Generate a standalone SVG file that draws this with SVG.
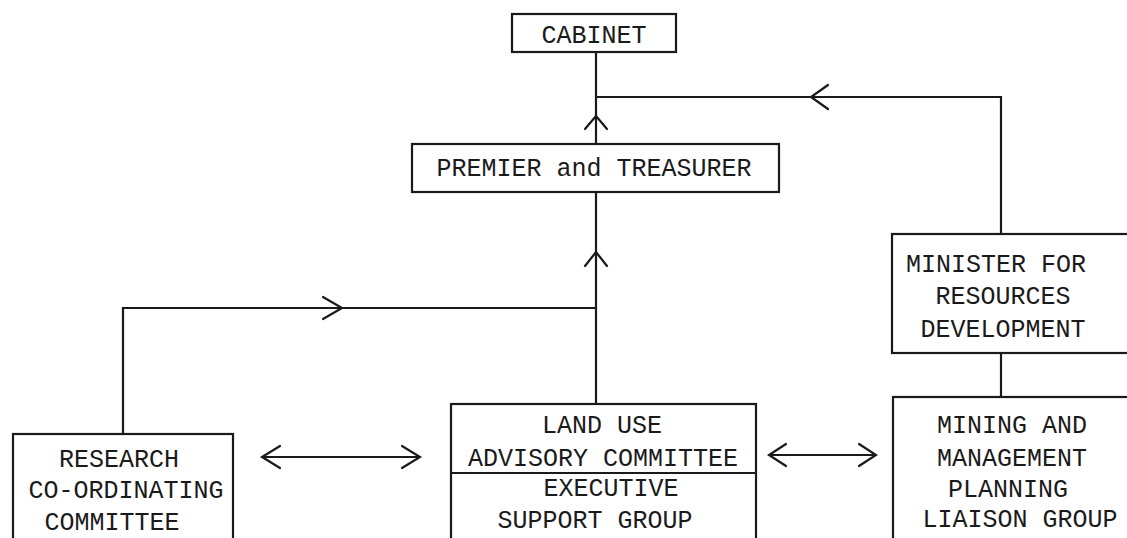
<svg xmlns="http://www.w3.org/2000/svg" width="1127" height="538" viewBox="0 0 1127 538">
<style>
.box{fill:none;stroke:#1a1a1a;stroke-width:2.2}
.ln{fill:none;stroke:#1a1a1a;stroke-width:2.2}
.ah{fill:none;stroke:#1a1a1a;stroke-width:2.2;stroke-linecap:round;stroke-linejoin:miter}
text{font-family:"Liberation Mono","Courier New",monospace;font-size:25px;fill:#1a1a1a;text-anchor:middle}
</style>
<rect width="1127" height="538" fill="#ffffff"/>
<g id="connectors">
<line class="ln" x1="596" y1="52" x2="596" y2="144"/>
<polyline class="ln" points="596,97 1001,97 1001,234"/>
<path class="ah" d="M828,85 L811,97 L828,109"/>
<path class="ah" d="M585,129 L596,116 L607,129"/>
<line class="ln" x1="596" y1="192" x2="596" y2="404"/>
<path class="ah" d="M585,266 L596,252 L607,266"/>
<polyline class="ln" points="123,434 123,308 596,308"/>
<path class="ah" d="M323,297 L342,308 L323,319"/>
<line class="ln" x1="1001" y1="353" x2="1001" y2="397"/>
<line class="ln" x1="264" y1="457" x2="418" y2="457"/>
<path class="ah" d="M280,446 L262,457 L280,468"/>
<path class="ah" d="M402,446 L420,457 L402,468"/>
<line class="ln" x1="770" y1="455" x2="875" y2="455"/>
<path class="ah" d="M786,444 L769,455 L786,466"/>
<path class="ah" d="M859,444 L876,455 L859,466"/>
</g>
<g id="cabinet">
<rect class="box" x="512" y="14" width="164" height="38"/>
<text x="594" y="43">CABINET</text>
</g>
<g id="premier">
<rect class="box" x="412" y="144" width="367" height="48"/>
<text x="594" y="176">PREMIER and TREASURER</text>
</g>
<g id="minister">
<rect class="box" x="892" y="234" width="240" height="119"/>
<text x="996" y="272">MINISTER FOR</text>
<text x="1003" y="304">RESOURCES</text>
<text x="1003" y="337">DEVELOPMENT</text>
</g>
<g id="research">
<rect class="box" x="13" y="434" width="220" height="120"/>
<text x="119" y="467">RESEARCH</text>
<text x="126" y="498">CO-ORDINATING</text>
<text x="112" y="530">COMMITTEE</text>
</g>
<g id="landuse">
<rect class="box" x="451" y="404" width="305" height="150"/>
<line class="ln" x1="451" y1="473" x2="756" y2="473"/>
<text x="602" y="433">LAND USE</text>
<text x="603" y="466">ADVISORY COMMITTEE</text>
<text x="611" y="496">EXECUTIVE</text>
<text x="595" y="528">SUPPORT GROUP</text>
</g>
<g id="mining">
<rect class="box" x="893" y="397" width="240" height="160"/>
<text x="1012" y="433">MINING AND</text>
<text x="1012" y="466">MANAGEMENT</text>
<text x="1008" y="497">PLANNING</text>
<text x="1020" y="527">LIAISON GROUP</text>
</g>
</svg>
